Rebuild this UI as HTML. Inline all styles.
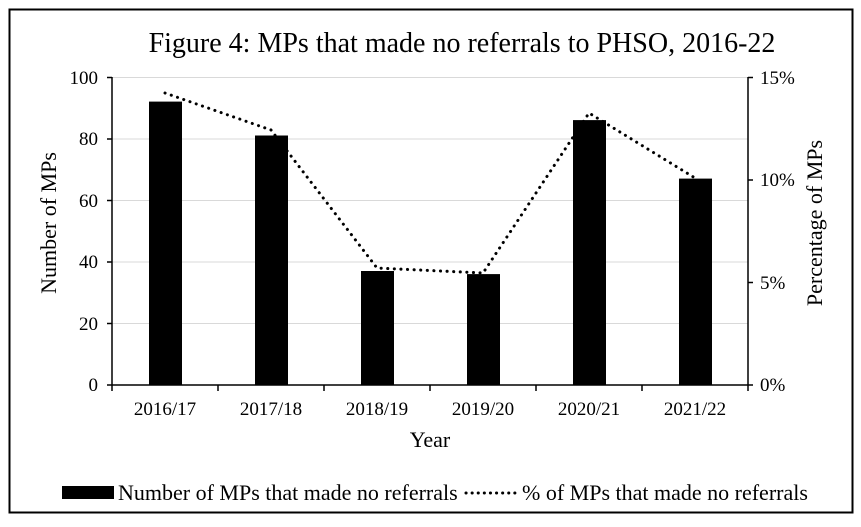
<!DOCTYPE html>
<html><head><meta charset="utf-8"><style>
html,body{margin:0;padding:0;background:#fff}
svg{display:block}
text{font-family:"Liberation Serif",serif;fill:#000}
</style></head><body>
<svg width="861" height="527" viewBox="0 0 861 527">
<rect x="9.5" y="9.5" width="843" height="503" fill="#fff" stroke="#000" stroke-width="2"/>
<text x="462" y="52" font-size="28" text-anchor="middle">Figure 4: MPs that made no referrals to PHSO, 2016-22</text>
<g stroke="#d9d9d9" stroke-width="1">
<line x1="112" y1="77.5" x2="748" y2="77.5"/>
<line x1="112" y1="139" x2="748" y2="139"/>
<line x1="112" y1="200.5" x2="748" y2="200.5"/>
<line x1="112" y1="262" x2="748" y2="262"/>
<line x1="112" y1="323.5" x2="748" y2="323.5"/>
</g>
<g fill="#000">
<rect x="149" y="101.6" width="33" height="283.4"/>
<rect x="255" y="135.5" width="33" height="249.5"/>
<rect x="361" y="271" width="33" height="114"/>
<rect x="467" y="274.1" width="33" height="110.9"/>
<rect x="573" y="120.1" width="33" height="264.9"/>
<rect x="679" y="178.6" width="33" height="206.4"/>
</g>
<g stroke="#000" stroke-width="1.5">
<line x1="112" y1="77" x2="112" y2="385"/>
<line x1="748" y1="77" x2="748" y2="385"/>
<line x1="107" y1="385" x2="753" y2="385"/>
<line x1="107" y1="77.5" x2="112" y2="77.5"/><line x1="107" y1="139" x2="112" y2="139"/><line x1="107" y1="200.5" x2="112" y2="200.5"/><line x1="107" y1="262" x2="112" y2="262"/><line x1="107" y1="323.5" x2="112" y2="323.5"/>
<line x1="748" y1="77.5" x2="753" y2="77.5"/><line x1="748" y1="180" x2="753" y2="180"/><line x1="748" y1="282.5" x2="753" y2="282.5"/>
<line x1="112" y1="385" x2="112" y2="391"/><line x1="218" y1="385" x2="218" y2="391"/><line x1="324" y1="385" x2="324" y2="391"/><line x1="430" y1="385" x2="430" y2="391"/><line x1="536" y1="385" x2="536" y2="391"/><line x1="642" y1="385" x2="642" y2="391"/><line x1="748" y1="385" x2="748" y2="391"/>
</g>
<polyline points="165,93 271,130 377,268 483,273 589,113 695,178" fill="none" stroke="#000" stroke-width="3" stroke-dasharray="0.1 6.5" stroke-linecap="round"/>
<g font-size="19" text-anchor="end">
<text x="98" y="84">100</text><text x="98" y="145">80</text><text x="98" y="207">60</text><text x="98" y="268">40</text><text x="98" y="330">20</text><text x="98" y="391">0</text>
</g>
<g font-size="19" text-anchor="start">
<text x="760" y="84">15%</text><text x="760" y="186">10%</text><text x="760" y="289">5%</text><text x="760" y="391">0%</text>
</g>
<g font-size="19" text-anchor="middle">
<text x="165" y="415">2016/17</text><text x="271" y="415">2017/18</text><text x="377" y="415">2018/19</text><text x="483" y="415">2019/20</text><text x="589" y="415">2020/21</text><text x="695" y="415">2021/22</text>
</g>
<text x="430" y="447" font-size="22" text-anchor="middle">Year</text>
<text transform="translate(56,223) rotate(-90)" font-size="22" text-anchor="middle">Number of MPs</text>
<text transform="translate(822,223) rotate(-90)" font-size="22" text-anchor="middle">Percentage of MPs</text>
<rect x="62" y="486" width="52" height="13" fill="#000"/>
<text x="118" y="500" font-size="22">Number of MPs that made no referrals</text>
<line x1="466" y1="493" x2="518" y2="493" stroke="#000" stroke-width="3" stroke-dasharray="0.1 6" stroke-linecap="round"/>
<text x="522" y="500" font-size="22">% of MPs that made no referrals</text>
</svg>
</body></html>
